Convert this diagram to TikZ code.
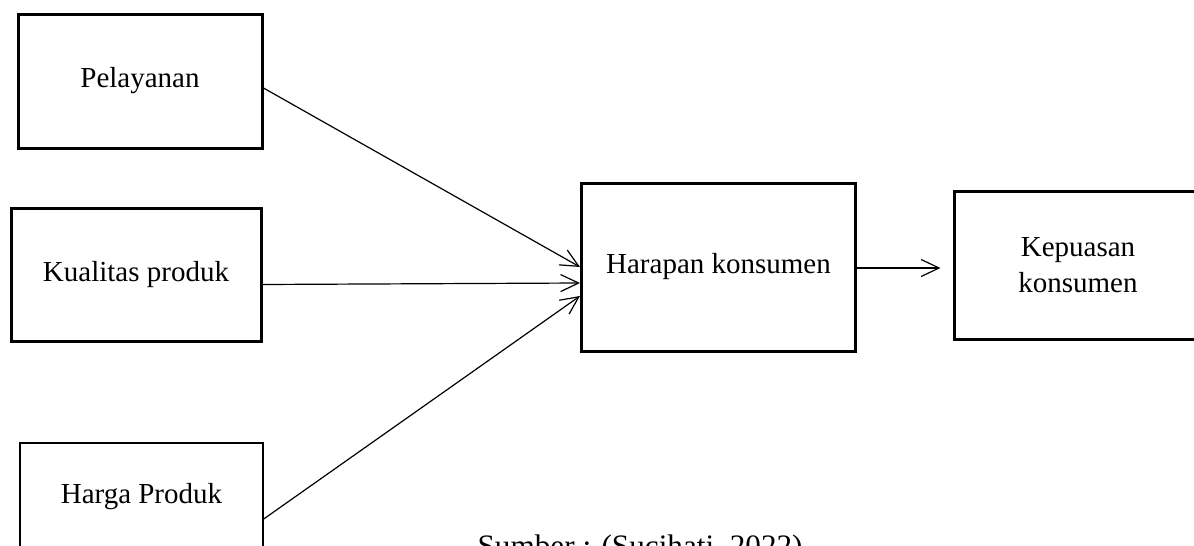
\documentclass[tikz,border=0pt]{standalone}
\usepackage{fontspec}
\setmainfont{Liberation Serif}
\usetikzlibrary{arrows.meta}

\begin{document}
\begin{tikzpicture}[
  x=0.5pt, y=-0.5pt,
  >={Straight Barb[length=9pt,width=8.5pt]},
  box/.style={draw, rectangle, line width=1.5pt, align=center, inner sep=0pt,
    font=\fontsize{14.5pt}{18pt}\selectfont},
  thin box/.style={box, line width=0.7pt},
  link/.style={->, line width=0.6pt}
]
  \useasboundingbox (0,0) rectangle (1194,546);

  \node[box, minimum width=122pt, minimum height=67pt] (pel) at (140,81) {Pelayanan};
  \node[box, minimum width=125pt, minimum height=66.5pt] (kua) at (136,275) {Kualitas produk};
  \node[thin box, minimum width=121.5pt, minimum height=54pt] (hrg) at (141.5,497) {Harga Produk};
  \node[box, minimum width=137pt, minimum height=84pt] (har) at (718.5,267) {Harapan konsumen};
  \node[box, minimum width=124pt, minimum height=74pt] (kep) at (1078,265) {Kepuasan\\konsumen};

  \node[anchor=base east, inner sep=0pt, font=\fontsize{15.6pt}{18pt}\selectfont]
    (src) at (803,556) {Sumber : (Sucihati, 2022)};

  \path[link]
    ([yshift=-3.5pt]pel.east) edge (har.west)
    ([yshift=-4.75pt]kua.east) edge ([yshift=-8pt]har.west)
    ([yshift=-11pt]hrg.east) edge ([yshift=-14.5pt]har.west)
    ([yshift=-0.5pt]har.east) edge ([xshift=-6pt,yshift=-0.5pt]kep.west |- har.east);
\end{tikzpicture}
\end{document}
